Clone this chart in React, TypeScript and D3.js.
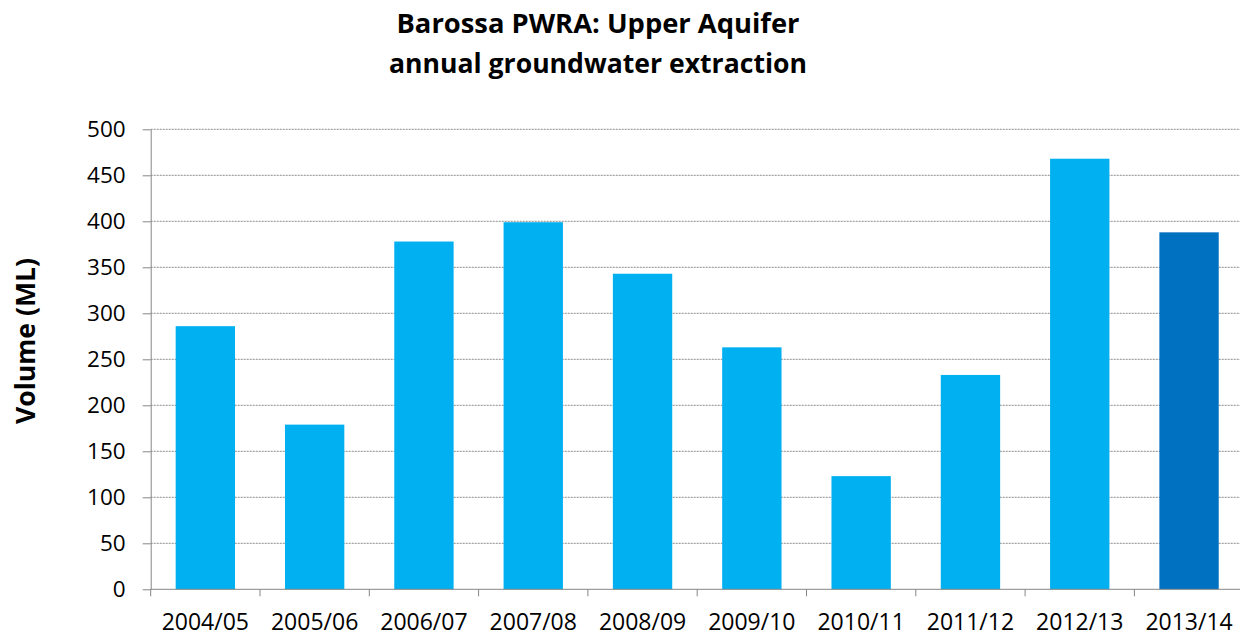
import React, {useEffect, useRef} from 'react';
import * as d3 from 'd3';

const years = ['2004/05', '2005/06', '2006/07', '2007/08', '2008/09', '2009/10', '2010/11', '2011/12', '2012/13', '2013/14'];
const volumes = [286, 179, 378, 399, 343, 263, 123, 233, 468, 388];
const yTicks = [0, 50, 100, 150, 200, 250, 300, 350, 400, 450, 500];
const titleLines = ['Barossa PWRA: Upper Aquifer', 'annual groundwater extraction'];
const yTitle = 'Volume (ML)';

export default function App() {
  const svgRef = useRef<SVGSVGElement>(null);

  useEffect(() => {
    const w = 1240;
    const h = 636;
    const left = 150.7;
    const right = 1243.7;
    const top = 129.3;
    const bottom = 589.3;
    const font = '"Open Sans", "Noto Sans", sans-serif';

    const svg = d3.select(svgRef.current)
      .attr('width', w)
      .attr('height', h);
    svg.selectAll('*').remove();

    const x = d3.scaleBand().domain(years).range([left, right]).paddingInner(0.457).paddingOuter(0.2285);
    const y = d3.scaleLinear().domain([0, 500]).range([bottom, top]);

    // gridlines
    svg.append('g')
      .selectAll('line')
      .data(yTicks.filter(d => d > 0))
      .join('line')
        .attr('x1', left)
        .attr('x2', w)
        .attr('y1', d => y(d))
        .attr('y2', d => y(d))
        .attr('stroke', '#8a8a8a')
        .attr('stroke-width', 1)
        .attr('stroke-dasharray', '2,1');

    // bars
    svg.append('g')
      .selectAll('rect')
      .data(volumes)
      .join('rect')
        .attr('x', (d, i) => x(years[i])!)
        .attr('width', x.bandwidth())
        .attr('y', d => y(d))
        .attr('height', d => bottom - y(d))
        .attr('fill', (d, i) => i === years.length - 1 ? '#0070C0' : '#00B0F0');

    // y axis
    const yAxis = svg.append('g')
      .attr('transform', `translate(${left},0)`)
      .call(d3.axisLeft(y).tickValues(yTicks).tickSize(8).tickPadding(17).tickSizeOuter(0));
    yAxis.select('.domain').attr('stroke', '#868686');
    yAxis.selectAll('.tick line').attr('stroke', '#868686');
    yAxis.selectAll('.tick text')
      .attr('font-family', font)
      .attr('font-size', 22.5)
      .attr('fill', '#000');

    // x axis
    svg.append('line')
      .attr('x1', left).attr('x2', w)
      .attr('y1', bottom).attr('y2', bottom)
      .attr('stroke', '#868686');
    const step = x.step();
    svg.append('g')
      .selectAll('line')
      .data(d3.range(years.length + 1))
      .join('line')
        .attr('x1', i => left + i * step)
        .attr('x2', i => left + i * step)
        .attr('y1', bottom)
        .attr('y2', bottom + 7)
        .attr('stroke', '#868686');
    svg.append('g')
      .selectAll('text')
      .data(years)
      .join('text')
        .attr('x', d => x(d)! + x.bandwidth() / 2)
        .attr('y', 630)
        .attr('text-anchor', 'middle')
        .attr('font-family', font)
        .attr('font-size', 23)
        .text(d => d);

    // title
    svg.append('g')
      .selectAll('text')
      .data(titleLines)
      .join('text')
        .attr('x', 598)
        .attr('y', (d, i) => 33 + i * 40)
        .attr('text-anchor', 'middle')
        .attr('font-family', font)
        .attr('font-weight', 'bold')
        .attr('font-size', 26)
        .attr('textLength', (d, i) => i === 0 ? 403 : 418)
        .attr('lengthAdjust', 'spacingAndGlyphs')
        .text(d => d);

    // y axis title
    svg.append('text')
      .attr('transform', `translate(35,341) rotate(-90)`)
      .attr('text-anchor', 'middle')
      .attr('font-family', font)
      .attr('font-weight', 'bold')
      .attr('font-size', 26)
      .attr('textLength', 166)
      .attr('lengthAdjust', 'spacingAndGlyphs')
      .text(yTitle);
  }, []);

  return (
    <div>
      <svg ref={svgRef} style={{position: 'absolute', left: 0, top: 0, display: 'block'}}></svg>
    </div>
  );
}
